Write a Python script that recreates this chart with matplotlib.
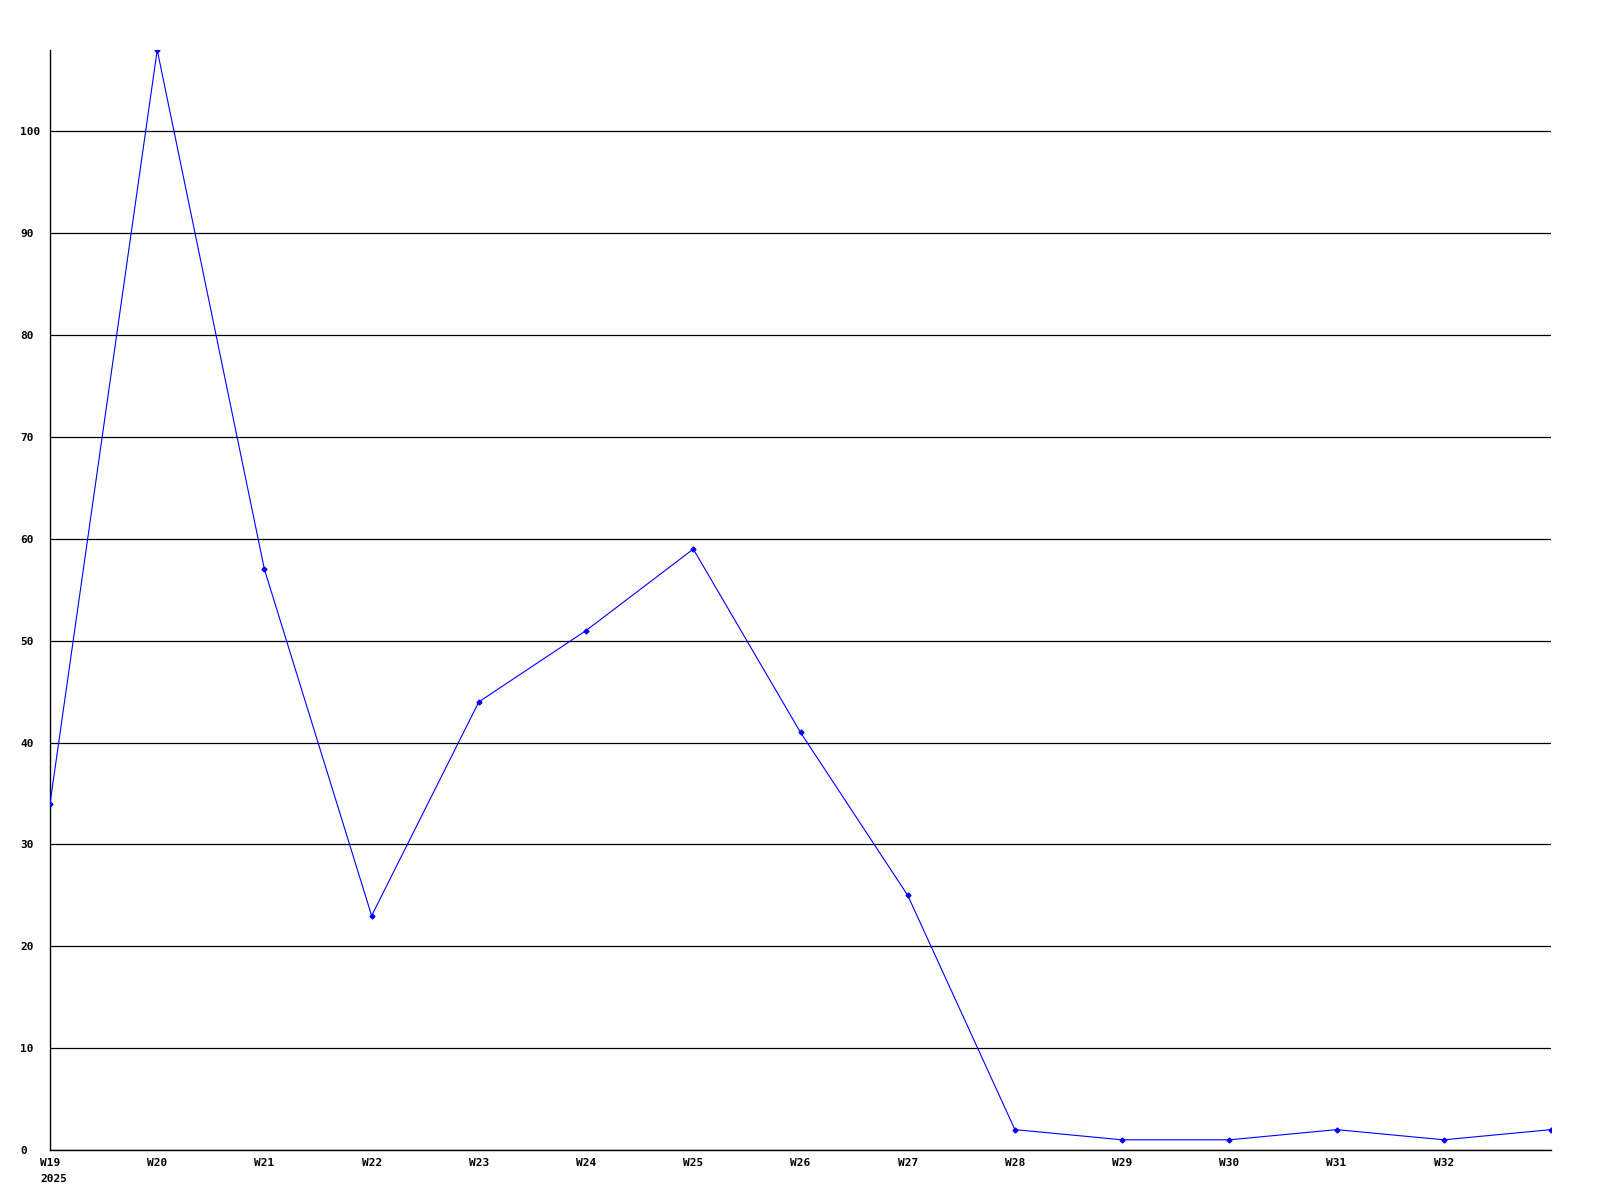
import matplotlib.pyplot as plt

# weekly counts
weeks = ["W19", "W20", "W21", "W22", "W23", "W24", "W25", "W26",
         "W27", "W28", "W29", "W30", "W31", "W32", "W33"]
counts = [34, 108, 57, 23, 44, 51, 59, 41, 25, 2, 1, 1, 2, 1, 2]
year = "2025"
y_ticks = [0, 10, 20, 30, 40, 50, 60, 70, 80, 90, 100]

font = {"family": "DejaVu Sans Mono", "weight": "bold", "size": 8}

fig = plt.figure(figsize=(16, 12), dpi=100)
ax = fig.add_axes([50 / 1600, 50 / 1200, 1501 / 1600, 1100 / 1200])

x = list(range(len(weeks)))
ax.plot(x, counts, color="#0000ff", linewidth=0.8, marker="D", markersize=2.5, zorder=3)

ax.set_xlim(0, len(weeks) - 1)
ax.set_ylim(0, 108)

# horizontal grid lines
ax.set_yticks(y_ticks)
ax.grid(axis="y", color="black", linewidth=0.9)
ax.set_axisbelow(True)

ax.set_xticks(x[:-1])
ax.set_xticklabels(weeks[:-1], fontdict=font)
ax.set_yticklabels([str(v) for v in y_ticks], fontdict=font, ha="left")
ax.tick_params(axis="y", length=0, pad=21.6)
ax.tick_params(axis="x", length=0, pad=6)

ax.annotate(year, xy=(0, 0), xycoords=("data", "axes fraction"),
            xytext=(-7.2, -17), textcoords="offset points",
            ha="left", va="top", **font)

for s in ["top", "right"]:
    ax.spines[s].set_visible(False)
ax.spines["left"].set_linewidth(1)
ax.spines["bottom"].set_linewidth(1)

fig.savefig("out.png", dpi=100)
